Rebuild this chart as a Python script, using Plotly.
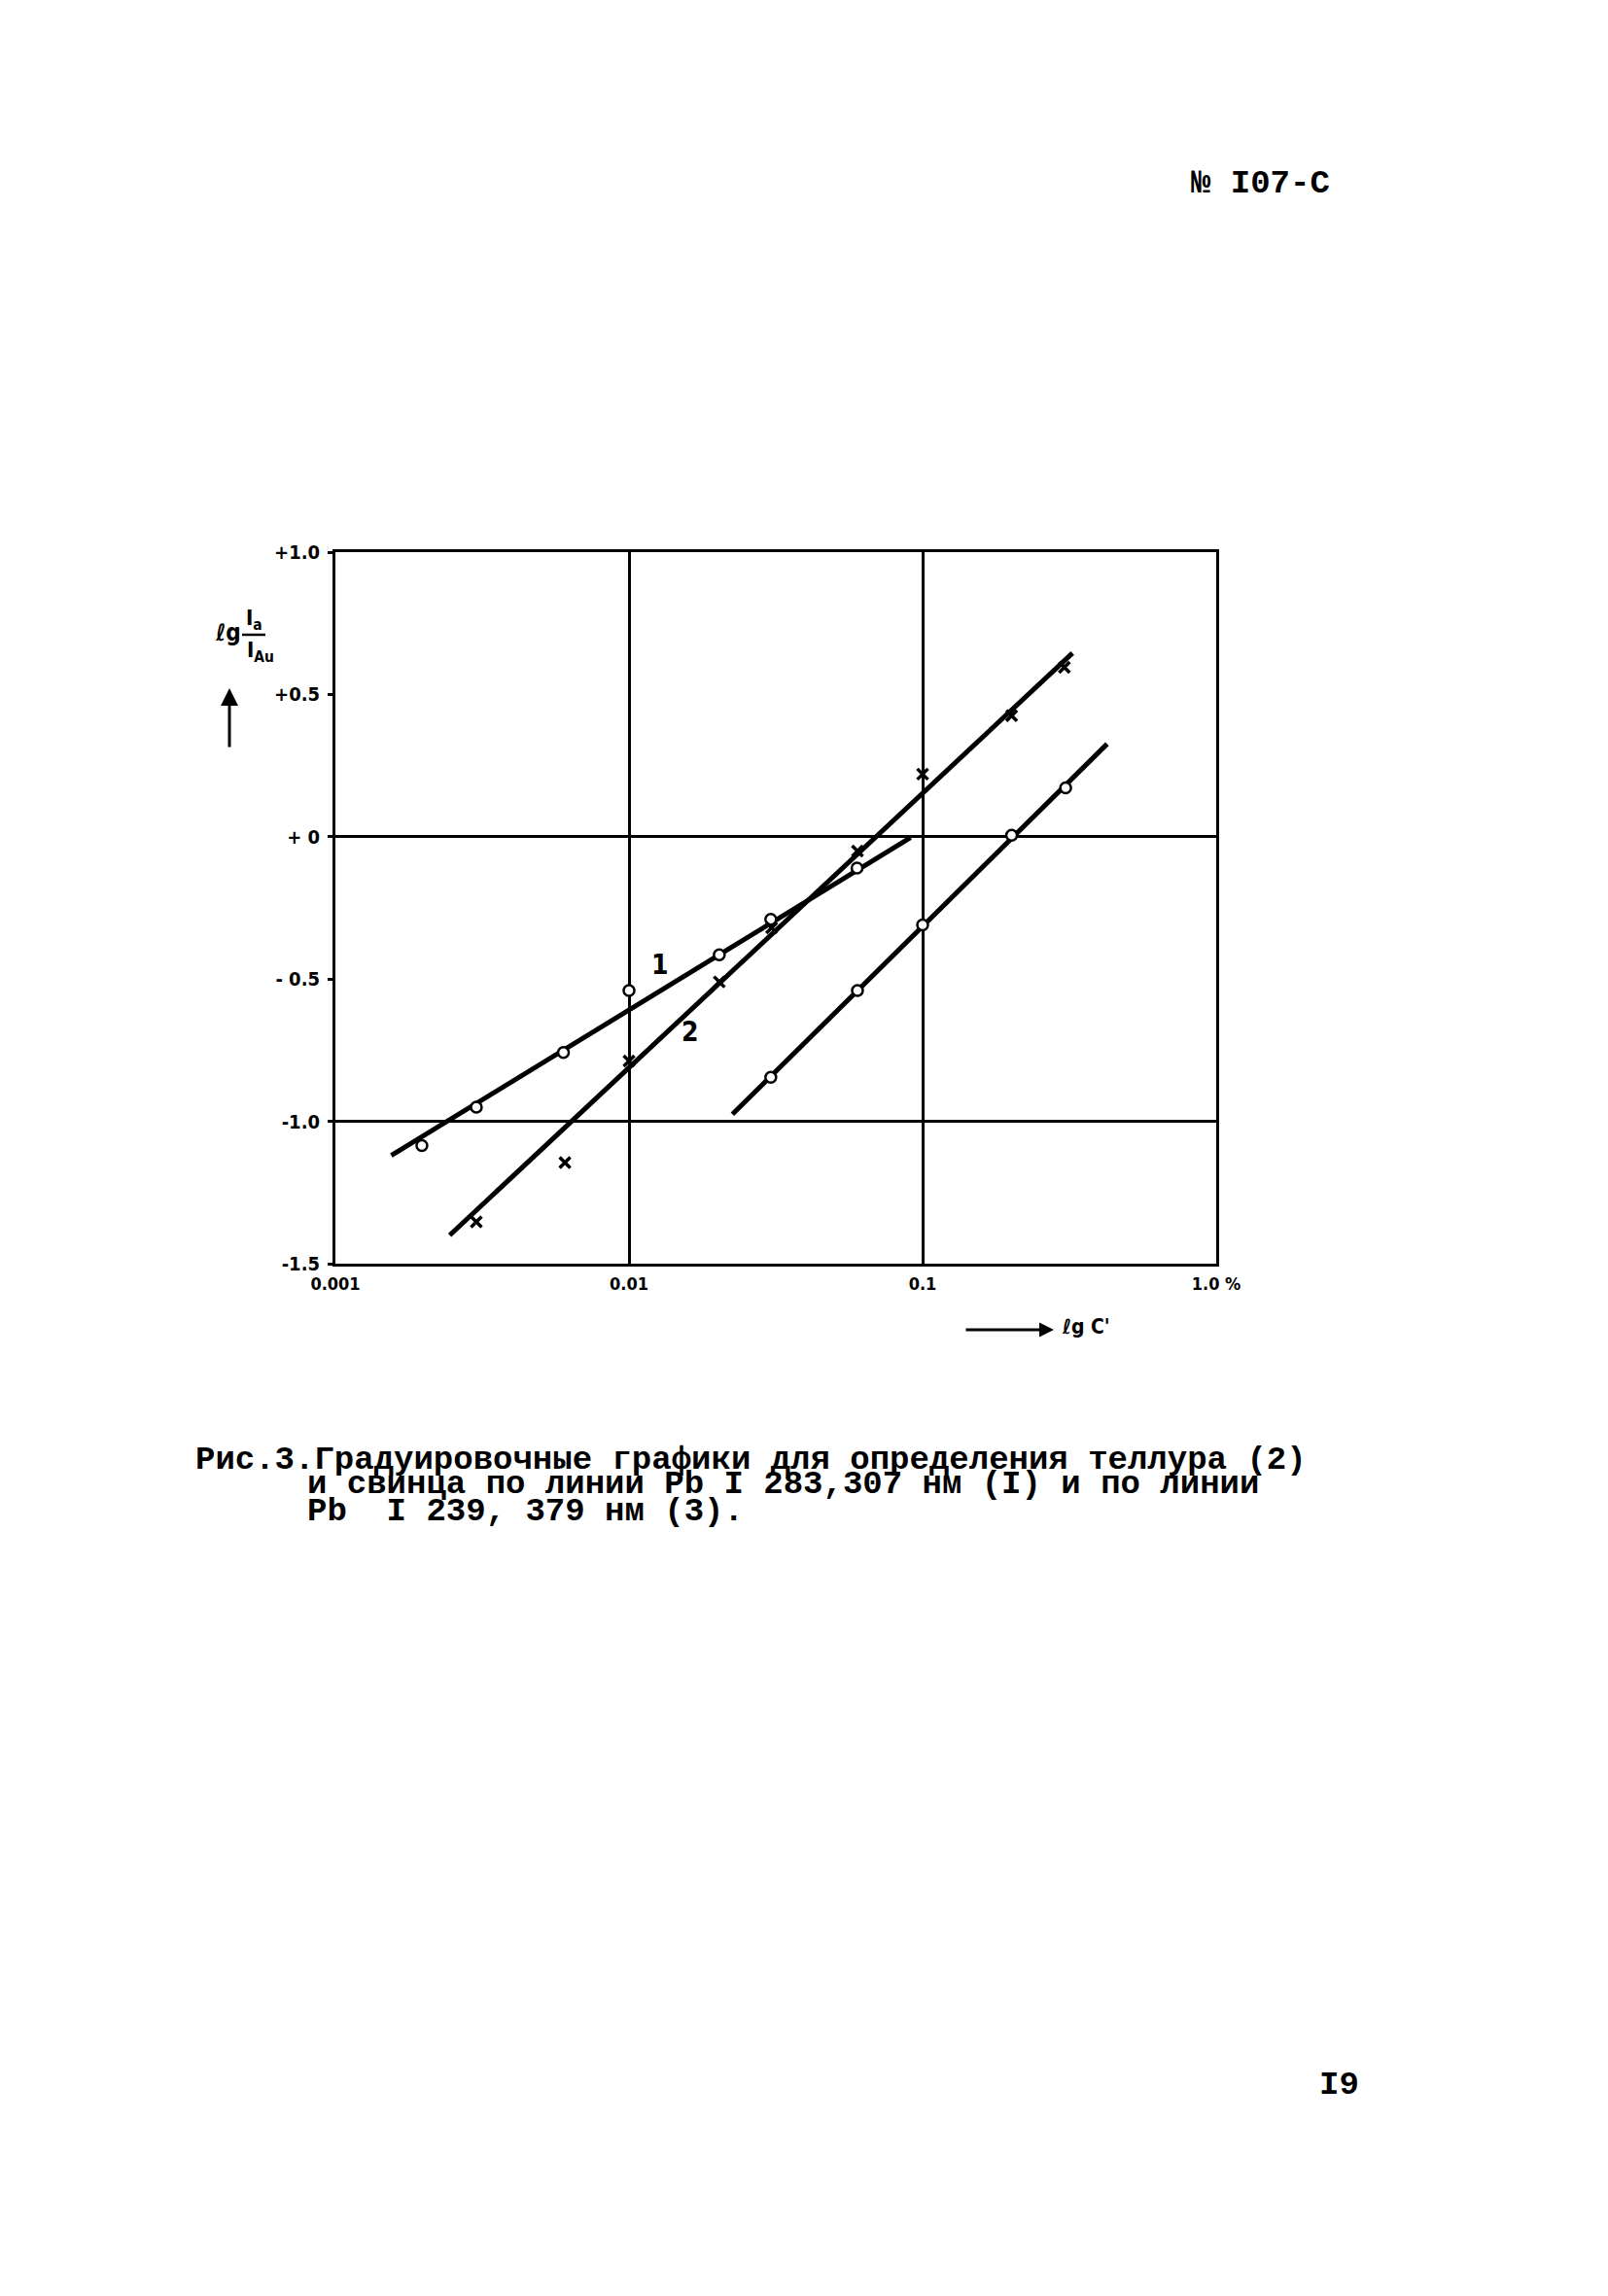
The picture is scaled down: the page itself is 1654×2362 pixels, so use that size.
import numpy as np
import plotly.graph_objects as go

# ---------------- data ----------------
# Curve 1 (Pb I 283.307 nm) - open circles
c1_x = [0.00197, 0.00302, 0.00598, 0.0100, 0.0203, 0.0304, 0.0598]
c1_y = [-1.085, -0.95, -0.758, -0.54, -0.415, -0.29, -0.11]
line1_x = [0.00155, 0.0910]
line1_y = [-1.12, -0.003]

# Curve 2 (tellurium) - crosses
c2_x = [0.00302, 0.00605, 0.0100, 0.0203, 0.0306, 0.0600, 0.100, 0.201, 0.304]
c2_y = [-1.353, -1.145, -0.788, -0.51, -0.32, -0.05, 0.22, 0.425, 0.595]
line2_x = [0.00245, 0.324]
line2_y = [-1.40, 0.645]

# Curve 3 (Pb I 239.379 nm) - open circles
c3_x = [0.0304, 0.0600, 0.100, 0.201, 0.307]
c3_y = [-0.845, -0.54, -0.31, 0.005, 0.172]
line3_x = [0.0225, 0.425]
line3_y = [-0.975, 0.326]

x_tickvals = [0.001, 0.01, 0.1, 1.0]
x_ticktext = ["0.001", "0.01", "0.1", "1.0 %"]
y_tickvals = [1.0, 0.5, 0.0, -0.5, -1.0, -1.5]
y_ticktext = ["+1.0", "+0.5", "+ 0", "- 0.5", "-1.0", "-1.5"]
y_gridvals = [-1.0, 0.0]

curve_labels = ["1", "2"]
curve_label_x = [0.0128, 0.0162]
curve_label_y = [-0.45, -0.685]

caption_lines = [
    "Рис.3.Градуировочные графики для определения теллура (2)",
    "и свинца по линии Pb I 283,307 нм (I) и по линии",
    "Pb  I 239, 379 нм (3).",
]
header_text = "№ I07-C"
page_number = "I9"

# ---------------- layout geometry (pixels) ----------------
W, H = 1654, 2362
L, R, T, B = 337, 1243, 560, 1292


def px(xp):
    return (xp - L) / (R - L)


def py(yp):
    return (B - yp) / (B - T)


TYPE_FONT = "Liberation Mono, Courier New, DejaVu Sans Mono, monospace"
COND_FONT = "Liberation Sans Narrow, DejaVu Sans Condensed, Roboto Condensed, Arial Narrow, sans-serif"

fig = go.Figure()

line_style = dict(color="black", width=5)
for lx, ly in [(line1_x, line1_y), (line2_x, line2_y), (line3_x, line3_y)]:
    fig.add_trace(go.Scatter(x=lx, y=ly, mode="lines", line=line_style,
                             showlegend=False, hoverinfo="skip"))

circle_marker = dict(symbol="circle", size=11, color="white",
                     line=dict(color="black", width=2.5))
cross_marker = dict(symbol="x-thin", size=11, color="black",
                    line=dict(color="black", width=3.5))

fig.add_trace(go.Scatter(x=c1_x, y=c1_y, mode="markers", marker=circle_marker,
                         showlegend=False))
fig.add_trace(go.Scatter(x=c2_x, y=c2_y, mode="markers", marker=cross_marker,
                         showlegend=False))
fig.add_trace(go.Scatter(x=c3_x, y=c3_y, mode="markers", marker=circle_marker,
                         showlegend=False))

# invisible trace to activate the grid axis
fig.add_trace(go.Scatter(x=[x_tickvals[0]], y=[y_gridvals[0]], yaxis="y2",
                         mode="markers", marker=dict(opacity=0),
                         showlegend=False, hoverinfo="skip"))


def note(xp, yp, text, font, xanchor="center"):
    return dict(x=px(xp), y=py(yp), xref="paper", yref="paper", text=text,
                xanchor=xanchor, yanchor="middle", showarrow=False, font=font)


annotations = []
for t, lx, ly in zip(curve_labels, curve_label_x, curve_label_y):
    annotations.append(dict(x=np.log10(lx), y=ly, xref="x", yref="y", text=t,
                            xanchor="center", yanchor="middle", showarrow=False,
                            font=dict(family=COND_FONT, size=28, color="black", weight=700)))

lab_font = dict(family=COND_FONT, size=24, color="black", weight=700)
xlab_font = dict(family=COND_FONT, size=21, color="black", weight=700)
frac_font = dict(family=COND_FONT, size=22, color="black", weight=700)
type_font = dict(family=TYPE_FONT, size=34, color="black", weight=700)

annotations += [
    # y-axis title: lg Ia / IAu with arrow
    note(226, 643, "ℓg", lab_font),
    note(253, 629, "I<sub>a</sub>", frac_font),
    note(260, 662, "I<sub>Au</sub>", frac_font),
    dict(x=px(228), y=py(700), xref="paper", yref="paper", text="", showarrow=True,
         ax=0, ay=62, arrowhead=2, arrowsize=1.2, arrowwidth=3, arrowcolor="black"),
    # x-axis title with arrow
    dict(x=px(1076), y=py(1360), xref="paper", yref="paper", text="", showarrow=True,
         ax=-92, ay=0, arrowhead=2, arrowsize=1.0, arrowwidth=3, arrowcolor="black"),
    note(1082, 1357, "ℓg C'", xlab_font, xanchor="left"),
    # header and page number
    note(1215, 181, header_text, type_font, xanchor="left"),
    note(1347, 2137, page_number, type_font, xanchor="left"),
]

cap_x = [191, 306, 306]
cap_y = [1494, 1519, 1547]
for t, cx, cy in zip(caption_lines, cap_x, cap_y):
    annotations.append(note(cx, cy, t, type_font, xanchor="left"))

shapes = [
    # fraction bar of the y title
    dict(type="line", xref="paper", yref="paper", x0=px(241), x1=px(265),
         y0=py(645), y1=py(645), line=dict(color="black", width=2.5)),
]

fig.update_layout(
    width=W, height=H,
    margin=dict(l=L, r=W - R, t=T, b=H - B),
    paper_bgcolor="white", plot_bgcolor="white",
    showlegend=False,
    annotations=annotations,
    shapes=shapes,
    xaxis=dict(type="log", range=[-3, 0], tickvals=x_tickvals, ticktext=x_ticktext,
               showgrid=True, gridcolor="black", gridwidth=2.5,
               showline=True, linecolor="black", linewidth=3, mirror=True,
               ticks="", zeroline=False, ticklabelstandoff=2,
               tickfont=dict(family=COND_FONT, size=18, color="black", weight=700)),
    yaxis=dict(range=[-1.5, 1.0], tickvals=y_tickvals, ticktext=y_ticktext,
               showgrid=False, showline=True, linecolor="black", linewidth=3,
               mirror=True, ticks="outside", ticklen=5, tickwidth=2.5, tickcolor="black",
               zeroline=False, ticklabelstandoff=4,
               tickfont=dict(family=COND_FONT, size=20, color="black", weight=700)),
    yaxis2=dict(range=[-1.5, 1.0], overlaying="y", tickvals=y_gridvals,
                showgrid=True, gridcolor="black", gridwidth=2.5,
                showticklabels=False, ticks="", zeroline=False, showline=False),
)

fig.write_html("out.html")
